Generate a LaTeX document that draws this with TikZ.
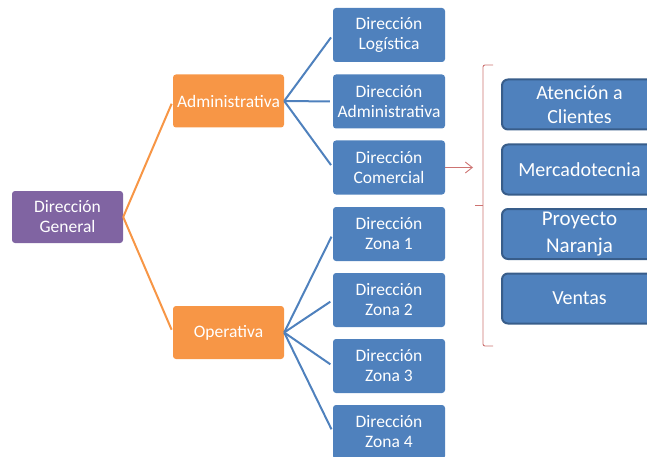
\documentclass[tikz,border=0pt]{standalone}
\usepackage{fontspec}
\setmainfont{Carlito}
\usetikzlibrary{arrows.meta}
\definecolor{morado}{HTML}{8064A2}
\definecolor{naranja}{HTML}{F79646}
\definecolor{azul}{HTML}{4F81BD}
\definecolor{azulborde}{HTML}{385D8A}
\definecolor{rojo}{HTML}{C0504D}
\tikzset{
    caja/.style={rounded corners=3pt, text=white, align=center, inner sep=0pt,
        minimum width=111pt, minimum height=53pt, font=\fontsize{17.5}{20}\selectfont},
    general/.style={caja, fill=morado, minimum height=52pt},
    area/.style={caja, fill=naranja},
    direccion/.style={caja, fill=azul, minimum width=112pt, minimum height=54pt},
    depto/.style={caja, fill=azul, draw=azulborde, line width=2pt, rounded corners=6pt,
        minimum width=155pt, minimum height=50pt, font=\fontsize{20}{24}\selectfont},
    rama/.style={line width=2pt, shorten >=3pt},
}
\begin{document}
\begin{tikzpicture}[x=1pt, y=-1pt]
    \useasboundingbox (0,0) rectangle (647,457);
    \clip (0,0) rectangle (647,457);
    \node[general] (general) at (67.5,217) {Dirección\\General};
    \node[area] (admin) at (228.5,101) {Administrativa};
    \node[area] (oper) at (228.5,332.5) {Operativa};

    \node[direccion] (logistica) at (389,35) {Dirección\\Logística};
    \node[direccion] (administrativa) at (389,101.5) {Dirección\\Administrativa};
    \node[direccion] (comercial) at (389,167.5) {Dirección\\Comercial};
    \foreach \i/\y in {1/234,2/300,3/366,4/432}
        \node[direccion] (zona\i) at (389,\y) {Dirección\\Zona \i};

    \draw[rama, naranja] (general.east) -- (admin.west);
    \draw[rama, naranja] (general.east) -- (oper.west);
    \foreach \d in {logistica, administrativa, comercial}
        \draw[rama, azul] (admin.east) -- (\d.west);
    \foreach \i in {1,...,4}
        \draw[rama, azul] (oper.east) -- (zona\i.west);

    \coordinate (llave) at (475,205);
    \draw[rojo!80, line width=0.9pt, rounded corners=2pt]
        (493,65) -- (483,65) -- (483,346) -- (493,346);
    \draw[rojo!80, line width=0.9pt] (483,205) -- (llave);
    \draw[rojo!80, line width=0.9pt, -{Straight Barb[length=7pt, width=11pt]}]
        (comercial.east) -- (473,167.5);

    \node[depto] (atencion) at (579.5,104.5) {Atención a\\Clientes};
    \node[depto] (mercado) at (579.5,169.5) {Mercadotecnia};
    \node[depto, font=\fontsize{21}{27}\selectfont] (proyecto) at (579.5,234) {Proyecto\\Naranja};
    \node[depto] (ventas) at (579.5,298.5) {Ventas};
\end{tikzpicture}
\end{document}
